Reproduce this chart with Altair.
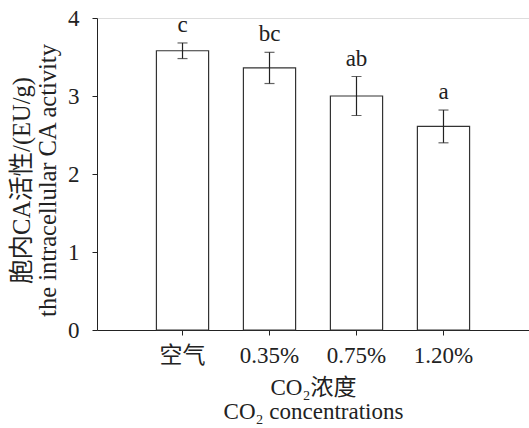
import altair as alt
import pandas as pd

categories = ["空气", "0.35%", "0.75%", "1.20%"]
means = [3.58, 3.36, 3.00, 2.61]
errors = [0.10, 0.20, 0.25, 0.21]
letters = ["c", "bc", "ab", "a"]
y_ticks = [0, 1, 2, 3, 4]

df = pd.DataFrame({"cat": categories, "mean": means, "err": errors, "letter": letters})

FONT = "Liberation Serif, Times New Roman, Noto Sans CJK SC"
INK = "#222222"

xenc = alt.X(
    "cat:N",
    sort=categories,
    scale=alt.Scale(paddingInner=0.4, paddingOuter=0.683, align=0.5),
    axis=alt.Axis(
        title=["CO₂浓度", "CO₂ concentrations"],
        titleFont=FONT, titleFontSize=23, titleFontWeight="normal", titleColor=INK,
        titleX=216, titleY=57, titleBaseline="middle", titleLineHeight=24,
        labelFont=FONT, labelFontSize=23, labelColor=INK, labelAngle=0, labelPadding=9,
        tickSize=5, tickColor=INK, domainColor=INK, grid=False,
    ),
)

base = alt.Chart(df).transform_calculate(
    lo="datum.mean - datum.err", hi="datum.mean + datum.err"
)

yscale = alt.Scale(domain=[0, 4], nice=False)

bars = base.mark_bar(fill="white", stroke="#333333", strokeWidth=1.2).encode(
    x=xenc,
    y=alt.Y(
        "mean:Q",
        scale=yscale,
        axis=alt.Axis(
            values=y_ticks, format="d",
            title=["胞内CA活性/(EU/g)", "the intracellular CA activity"],
            titleFont=FONT, titleFontSize=24.5, titleFontWeight="normal", titleColor=INK,
            titleX=-75, titleY=162, titleBaseline="middle", titleAngle=270, titleLineHeight=26,
            labelFont=FONT, labelFontSize=23, labelColor=INK, labelPadding=13,
            tickSize=5, tickColor=INK, domainColor=INK, grid=False,
        ),
    ),
)

rules = base.mark_rule(color=INK, strokeWidth=1.2).encode(
    x=alt.X("cat:N", sort=categories),
    y=alt.Y("lo:Q", scale=yscale),
    y2="hi:Q",
)

caps_hi = base.mark_tick(color=INK, size=10, thickness=1.2).encode(
    x=alt.X("cat:N", sort=categories),
    y=alt.Y("hi:Q", scale=yscale),
)
caps_lo = base.mark_tick(color=INK, size=10, thickness=1.2).encode(
    x=alt.X("cat:N", sort=categories),
    y=alt.Y("lo:Q", scale=yscale),
)

labels = base.mark_text(font=FONT, fontSize=23, color=INK, baseline="bottom", dy=-6).encode(
    x=alt.X("cat:N", sort=categories),
    y=alt.Y("hi:Q", scale=yscale),
    text="letter:N",
)

chart = (
    alt.layer(bars, rules, caps_hi, caps_lo, labels)
    .properties(
        width=432,
        height=312,
        autosize=alt.AutoSizeParams(type="none"),
        padding={"left": 97, "top": 18, "right": 0, "bottom": 98},
    )
    .configure_view(stroke=None)
    .configure(background="white")
)

chart.save("out.html", embed_options={"renderer": "svg", "actions": False})
